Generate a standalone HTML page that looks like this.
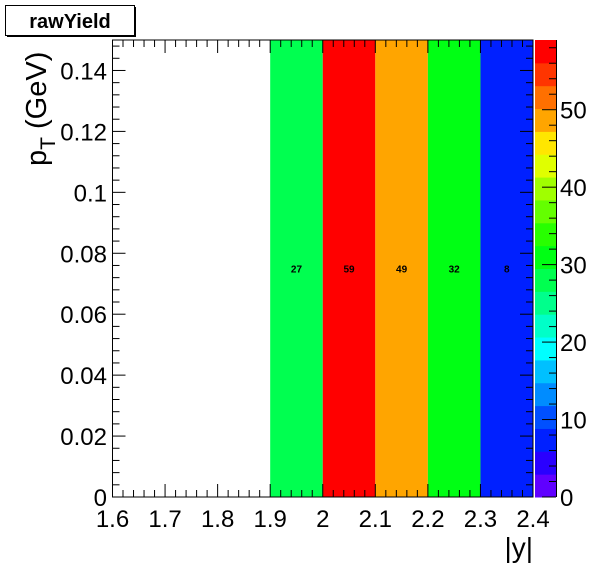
<!DOCTYPE html>
<html><head><meta charset="utf-8"><style>
html,body{margin:0;padding:0;background:#fff;}
svg{display:block;font-family:"Liberation Sans",Arial,sans-serif;}
</style></head><body>
<svg id="chart" width="596" height="572" viewBox="0 0 596 572">
<rect x="0" y="0" width="596" height="572" fill="#fff"/>
<g>
<rect x="5.5" y="5.5" width="129" height="30" fill="#fff" stroke="#000" stroke-width="1"/>
<rect x="7" y="35" width="129" height="2" fill="#000"/>
<rect x="134" y="7" width="2" height="30" fill="#000"/>
<text x="70" y="28" font-size="20" font-weight="bold" text-anchor="middle">rawYield</text>
</g>
<g id="cells"></g>
<g id="frame"></g>
<g id="palette"></g>
<text x="533" y="557" font-size="28" text-anchor="end">|y|</text>
<text transform="translate(46,166) rotate(-90)" font-size="29" text-anchor="start">p<tspan font-size="21" dy="9">T</tspan><tspan dy="-9"> (GeV)</tspan></text>
</svg>
<script>
const xEdges = [1.9, 2.0, 2.1, 2.2, 2.3, 2.4];
const cellValues = [27, 59, 49, 32, 8];
const yRange = [0, 0.15];
const xTicks = [1.6, 1.7, 1.8, 1.9, 2.0, 2.1, 2.2, 2.3, 2.4];
const xTickLabels = ["1.6","1.7","1.8","1.9","2","2.1","2.2","2.3","2.4"];
const yTicks = [0, 0.02, 0.04, 0.06, 0.08, 0.1, 0.12, 0.14];
const yTickLabels = ["0","0.02","0.04","0.06","0.08","0.1","0.12","0.14"];
const zTicks = [0, 10, 20, 30, 40, 50];
const zMax = 59;
const paletteColors = ["#6000ff","#2a00ff","#0020ff","#0050ff","#008cff","#00c0ff","#00ffff","#00ffc8","#00ff8c","#00ff50","#00ff14","#28ff00","#64ff00","#a0ff00","#e0ff00","#ffe600","#ffa500","#ff7000","#ff3500","#ff0000"];

const NS="http://www.w3.org/2000/svg";
const L=112.5,R=533,T=40,B=497;
const X0=1.6,X1=2.4;
const sx=v=>L+(v-X0)/(X1-X0)*(R-L);
const sy=v=>B-(v-yRange[0])/(yRange[1]-yRange[0])*(B-T);
const PL=535,PR=556;
const sz=v=>B-v/zMax*(B-T);
function mk(tag,attrs,parent){const e=document.createElementNS(NS,tag);for(const k in attrs)e.setAttribute(k,attrs[k]);parent.appendChild(e);return e;}
function colorFor(v){let i=Math.floor(v/zMax*paletteColors.length);if(i>=paletteColors.length)i=paletteColors.length-1;if(i<0)i=0;return paletteColors[i];}
const cells=document.getElementById('cells');
cellValues.forEach((v,i)=>{
  const x0=sx(xEdges[i]),x1=sx(xEdges[i+1]);
  const r=mk('rect',{x:x0,y:T,width:x1-x0,height:B-T,fill:colorFor(v)},cells);
  
  
  const t=mk('text',{x:(x0+x1)/2,y:sy(0.075)+4,'font-size':10,'font-weight':'bold','text-anchor':'middle'},cells);
  t.textContent=v;
  
  
});
const fr=document.getElementById('frame');
const box=mk('rect',{x:L,y:T,width:R-L,height:B-T,fill:'none',stroke:'#000','stroke-width':1},fr);


for(let k=0;k<=40;k++){const v=X0+k*0.02;const x=sx(v);const major=k%5===0;
  mk('line',{x1:x,x2:x,y1:B,y2:B-(major?13:7),stroke:'#000'},fr);
  mk('line',{x1:x,x2:x,y1:T,y2:T+(major?13:7),stroke:'#000'},fr);}
xTicks.forEach((v,i)=>{const t=mk('text',{x:sx(v),y:527,'font-size':24,'text-anchor':'middle'},fr);t.textContent=xTickLabels[i];
  
  });
for(let k=0;k<=37;k++){const v=k*0.004;const y=sy(v);if(y<T-0.5)break;const major=k%5===0;
  mk('line',{x1:L,x2:L+(major?13:7),y1:y,y2:y,stroke:'#000'},fr);
  mk('line',{x1:R,x2:R-(major?13:7),y1:y,y2:y,stroke:'#000'},fr);}
yTicks.forEach((v,i)=>{const t=mk('text',{x:107,y:sy(v)+9,'font-size':24,'text-anchor':'end'},fr);t.textContent=yTickLabels[i];
  
  });
const pal=document.getElementById('palette');
paletteColors.forEach((c,i)=>{const y0=sz((i+1)*zMax/paletteColors.length),y1=sz(i*zMax/paletteColors.length);
  const r=mk('rect',{x:PL,y:y0,width:PR-PL,height:y1-y0+0.5,fill:c},pal);
  
  });
mk('line',{x1:PR+0.5,x2:PR+0.5,y1:T,y2:B,stroke:'#000'},pal);
for(let v=0;v<=zMax;v+=2){const y=sz(v);mk('line',{x1:PR,x2:PR-(v%10===0?14:7),y1:y,y2:y,stroke:'#000'},pal);}
zTicks.forEach(v=>{const t=mk('text',{x:560,y:sz(v)+9,'font-size':24},pal);t.textContent=v;
  
  });
</script>
</body></html>
